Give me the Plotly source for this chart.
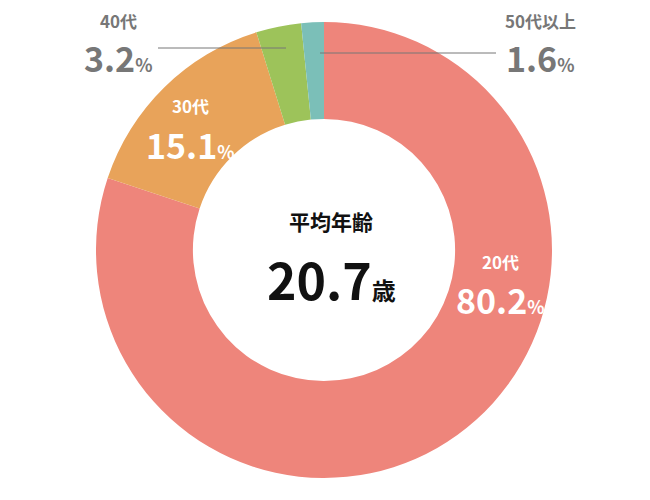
import plotly.graph_objects as go

categories = ["20代", "30代", "40代", "50代以上"]
values = [80.2, 15.1, 3.2, 1.6]
colors = ["#EE857B", "#E8A35A", "#9DC35A", "#7BBFB8"]

W, H = 650, 500
cx, cy, R = 316, 242, 228
fig = go.Figure(go.Pie(
    labels=categories, values=values, sort=False, direction="clockwise",
    rotation=0, hole=0.575, marker=dict(colors=colors, line=dict(width=0)),
    textinfo="none", hoverinfo="label+percent", showlegend=False,
    domain=dict(x=[(cx-R)/W, (cx+R)/W], y=[(H-cy-R)/H, (H-cy+R)/H]),
))

F = "Noto Sans CJK JP"
def ann(x, y, text, size, color, anchor="center"):
    fig.add_annotation(x=x/W, y=1-y/H, xref="paper", yref="paper", text=text,
                       showarrow=False, xanchor=anchor, yanchor="middle",
                       font=dict(family=F, size=size, color=color))

def label(x, y, i, color, anchor="center"):
    ann(x, y, "<b>%s</b>" % categories[i], 17, color, anchor)
    ann(x, y+38, "<b>%s<span style='font-size:18px'>%%</span></b>" % values[i], 34, color, anchor)

label(493, 253, 0, "white")
label(183, 98, 1, "white")
label(110, 12, 2, "#777777")
label(532, 12, 3, "#777777")

ann(323, 213, "<b>平均年齢</b>", 21, "#111111")
ann(323, 270, "<b>20.7<span style='font-size:24px'>歳</span></b>", 50, "#111111")

for x0, x1, y in [(150, 278, 40), (312, 488, 45)]:
    fig.add_shape(type="line", xref="paper", yref="paper",
                  x0=x0/W, x1=x1/W, y0=1-y/H, y1=1-y/H,
                  line=dict(color="#777777", width=1))

fig.update_layout(width=W, height=H, margin=dict(l=0, r=0, t=0, b=0),
                  paper_bgcolor="white", plot_bgcolor="white")
fig.write_html("out.html")
